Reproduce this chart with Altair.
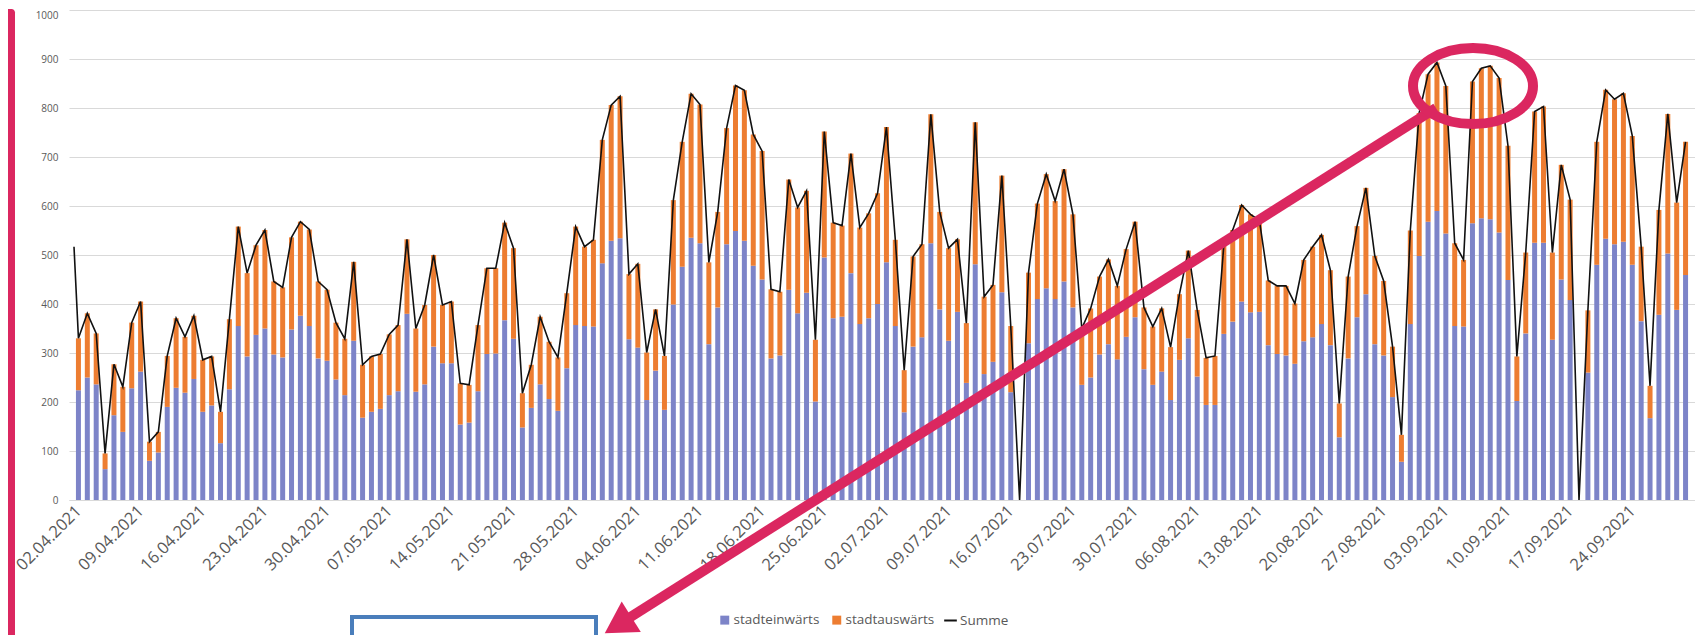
import altair as alt
import pandas as pd

# ---------------- data ----------------
erster_tag = "2021-04-02"
anzahl_tage = 182

stadteinwaerts = [
    224, 250, 236, 63, 173, 139, 228, 262, 80, 97, 190, 229, 219, 247, 180, 193, 116, 226, 355, 293,
    337, 350, 297, 291, 348, 376, 355, 289, 284, 246, 214, 325, 168, 180, 186, 214, 222, 380, 221, 236,
    313, 279, 279, 154, 158, 222, 298, 299, 367, 329, 148, 188, 236, 206, 182, 269, 357, 355, 354, 483,
    529, 534, 328, 311, 204, 264, 184, 399, 476, 535, 524, 318, 393, 522, 549, 529, 478, 450, 289, 295,
    429, 381, 423, 201, 495, 371, 374, 463, 359, 371, 400, 485, 355, 179, 313, 332, 524, 389, 325, 384,
    239, 481, 257, 282, 424, 220, 0, 320, 410, 432, 410, 446, 393, 235, 250, 297, 318, 287, 333, 373,
    267, 235, 262, 204, 286, 330, 252, 194, 194, 339, 364, 405, 383, 384, 316, 298, 295, 278, 324, 332,
    359, 316, 128, 289, 373, 420, 318, 295, 210, 78, 359, 498, 568, 590, 544, 355, 354, 565, 575, 573,
    546, 449, 202, 340, 525, 525, 327, 450, 408, 0, 260, 480, 533, 522, 527, 480, 365, 167, 378, 503,
    388, 459,
]
stadtauswaerts = [
    106, 131, 104, 32, 104, 92, 134, 143, 39, 42, 104, 142, 114, 129, 106, 100, 64, 143, 203, 170,
    183, 201, 149, 143, 188, 192, 197, 157, 145, 116, 115, 161, 108, 113, 112, 124, 135, 152, 129, 162,
    187, 119, 126, 84, 77, 135, 175, 174, 199, 185, 70, 88, 138, 117, 109, 153, 201, 162, 177, 252,
    277, 290, 133, 171, 97, 125, 110, 213, 255, 294, 283, 167, 195, 237, 297, 307, 268, 262, 141, 130,
    225, 216, 208, 126, 257, 195, 186, 244, 197, 214, 226, 276, 176, 86, 184, 190, 263, 199, 189, 148,
    122, 290, 158, 157, 238, 135, 0, 144, 195, 233, 200, 229, 190, 115, 141, 159, 173, 150, 179, 195,
    126, 119, 129, 108, 134, 179, 136, 96, 100, 181, 187, 197, 200, 187, 132, 139, 142, 123, 166, 185,
    182, 153, 69, 167, 186, 217, 180, 152, 103, 55, 191, 292, 301, 303, 301, 169, 136, 289, 306, 313,
    315, 274, 91, 165, 268, 278, 178, 234, 205, 0, 127, 251, 304, 296, 303, 263, 152, 66, 214, 285,
    219, 272,
]
# value of the Summe line where it enters the plot at the left edge
summe_rand = 517

tick_labels = [
    "02.04.2021", "09.04.2021", "16.04.2021", "23.04.2021", "30.04.2021", "07.05.2021",
    "14.05.2021", "21.05.2021", "28.05.2021", "04.06.2021", "11.06.2021", "18.06.2021",
    "25.06.2021", "02.07.2021", "09.07.2021", "16.07.2021", "23.07.2021", "30.07.2021",
    "06.08.2021", "13.08.2021", "20.08.2021", "27.08.2021", "03.09.2021", "10.09.2021",
    "17.09.2021", "24.09.2021",
]
y_ticks = [0, 100, 200, 300, 400, 500, 600, 700, 800, 900, 1000]

# ---------------- styling ----------------
BLUE = "#7D84C8"
ORANGE = "#ED7D31"
PINK = "#DB2760"
FRAME_BLUE = "#4A7EBB"
GREY = "#595959"
GRID = "#D9D9D9"
FONT = "Open Sans"


def ms(ts):
    return int(pd.Timestamp(ts).tz_localize("UTC").value // 10**6)


# ---------------- tables ----------------
tage = pd.date_range(erster_tag, periods=anzahl_tage, freq="D")
tage_ms = [ms(t) for t in tage]
dom = [ms(tage[0] - pd.Timedelta(hours=12)), ms(tage[-1] + pd.Timedelta(hours=12))]

bars = pd.DataFrame(
    {
        "datum": tage_ms * 2,
        "richtung": ["stadteinwärts"] * anzahl_tage + ["stadtauswärts"] * anzahl_tage,
        "wert": stadteinwaerts + stadtauswaerts,
        "ord": [0] * anzahl_tage + [1] * anzahl_tage,
    }
)
summe = [a + b for a, b in zip(stadteinwaerts, stadtauswaerts)]
linie = pd.DataFrame(
    {
        "datum": [dom[0]] + tage_ms,
        "summe": [summe_rand] + summe,
        "serie": "Summe",
    }
)

tick_values = [ms(pd.to_datetime(s, format="%d.%m.%Y")) for s in tick_labels]

xscale = alt.Scale(type="utc", domain=dom, nice=False)
xaxis = alt.Axis(
    values=tick_values,
    labelExpr="utcFormat(datum.value, '%d.%m.%Y')",
    labelAngle=-45,
    labelAlign="right",
    labelBaseline="middle",
    labelFont=FONT,
    labelFontSize=16.5,
    labelColor=GREY,
    labelPadding=8,
    labelOverlap=False,
    labelFlush=False,
    labelBound=False,
    ticks=False,
    grid=False,
    domainColor=GRID,
    domainWidth=1,
    title=None,
)
yscale = alt.Scale(domain=[0, 1000], nice=False)
yaxis = alt.Axis(
    values=y_ticks,
    format="d",
    labelFont=FONT,
    labelFontSize=10,
    labelColor=GREY,
    labelPadding=11,
    labelBaseline={"condition": {"test": "datum.value >= 1000", "value": "top"}, "value": "middle"},
    ticks=False,
    domain=False,
    grid=True,
    gridColor=GRID,
    gridWidth=1,
    title=None,
)

bar_layer = (
    alt.Chart(bars)
    .mark_bar(size=5)
    .encode(
        x=alt.X("datum:T", scale=xscale, axis=xaxis),
        y=alt.Y("wert:Q", stack="zero", scale=yscale, axis=yaxis),
        color=alt.Color(
            "richtung:N",
            scale=alt.Scale(domain=["stadteinwärts", "stadtauswärts"], range=[BLUE, ORANGE]),
            legend=alt.Legend(
                title=None,
                orient="none",
                legendX=649,
                legendY=603,
                direction="horizontal",
                symbolType="square",
                symbolSize=80,
                symbolStrokeWidth=0,
                labelFont=FONT,
                labelFontSize=13.5,
                labelColor=GREY,
                labelOffset=2,
                columnPadding=10,
            ),
        ),
        order=alt.Order("ord:Q", sort="ascending"),
    )
)

line_layer = (
    alt.Chart(linie)
    .mark_line(strokeWidth=1.6)
    .encode(
        x=alt.X("datum:T", scale=xscale),
        y=alt.Y("summe:Q", scale=yscale),
        color=alt.Color(
            "serie:N",
            scale=alt.Scale(domain=["Summe"], range=["#111111"]),
            legend=alt.Legend(
                title=None,
                orient="none",
                legendX=874,
                legendY=603,
                symbolType="stroke",
                symbolSize=160,
                symbolStrokeWidth=2,
                labelFont=FONT,
                labelFontSize=13.5,
                labelColor=GREY,
                labelOffset=2,
            ),
        ),
    )
)

one = alt.Data(values=[{"a": 1}])

strip = alt.Chart(one).mark_rect(color=PINK, cornerRadiusTopRight=6).encode(
    x=alt.value(-61), x2=alt.value(-54), y=alt.value(-1), y2=alt.value(640)
)
ellipse = alt.Chart(one).mark_point(
    shape="M -1 0 A 1 0.633 0 1 0 1 0 A 1 0.633 0 1 0 -1 0 Z",
    size=14400,
    filled=False,
    stroke=PINK,
    strokeWidth=10,
    opacity=1,
).encode(x=alt.value(1404), y=alt.value(76))
arrow_line = alt.Chart(one).mark_rule(color=PINK, strokeWidth=10, strokeCap="butt").encode(
    x=alt.value(1367), y=alt.value(98), x2=alt.value(552), y2=alt.value(613)
)
arrow_head = alt.Chart(one).mark_point(
    shape="triangle-up", size=1300, filled=True, fill=PINK, strokeWidth=0, opacity=1, angle=238
).encode(x=alt.value(549), y=alt.value(615))
frame = alt.Chart(one).mark_rect(filled=False, stroke=FRAME_BLUE, strokeWidth=4).encode(
    x=alt.value(283), x2=alt.value(527), y=alt.value(607), y2=alt.value(660)
)

chart = (
    alt.layer(bar_layer, line_layer, strip, frame, arrow_line, arrow_head, ellipse)
    .resolve_scale(color="independent")
    .properties(
        width=1626,
        height=490,
        autosize=alt.AutoSizeParams(type="none"),
        padding={"left": 61, "top": 2, "right": 0, "bottom": 135},
        background="white",
    )
    .configure_view(stroke=None)
)

chart.save("out.html", embed_options={"renderer": "svg", "actions": False})
